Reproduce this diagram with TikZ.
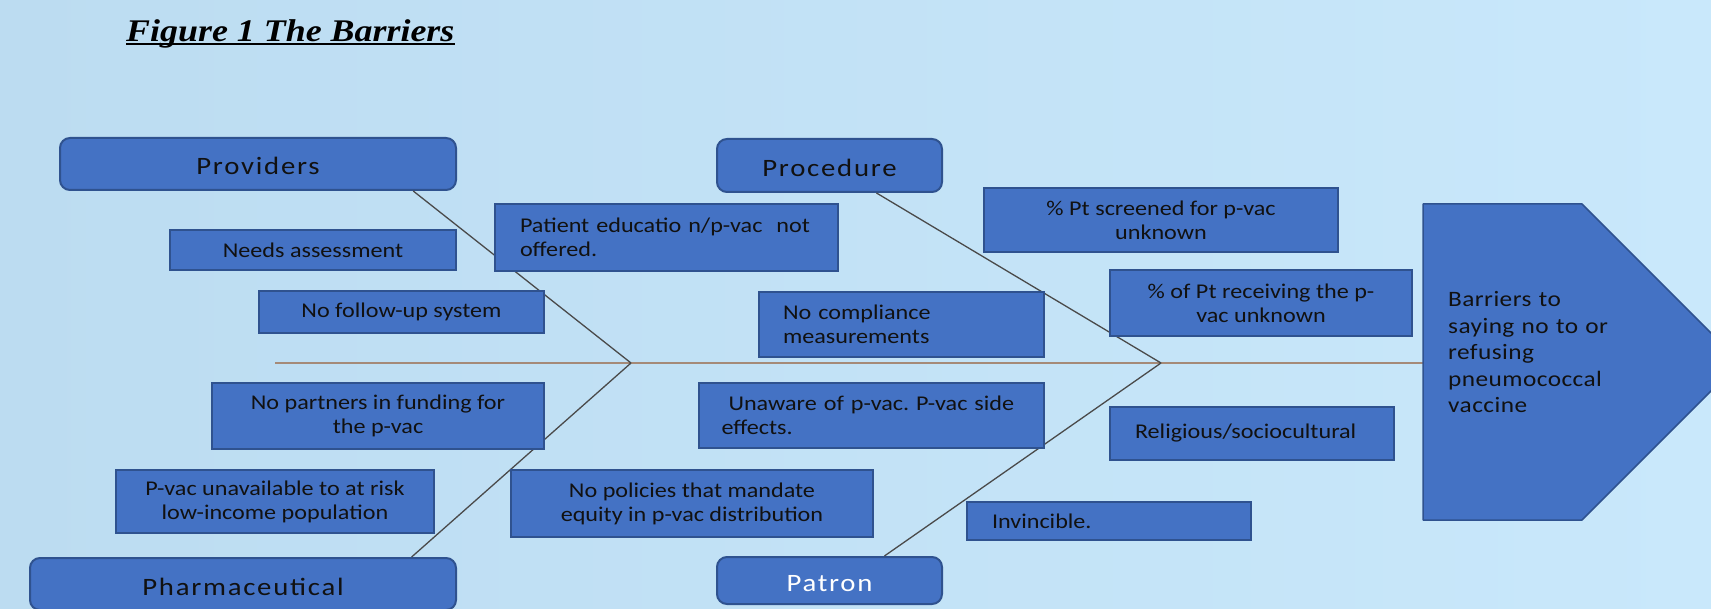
\documentclass[tikz,border=0pt]{standalone}
\usepackage{fontspec}
\setmainfont{Carlito}
\newfontfamily\BoxFont[FakeStretch=1.15]{Carlito}
\newfontfamily\HeadFont[FakeStretch=1.15,LetterSpace=7]{Carlito}
\newfontfamily\GoalFont[FakeStretch=1.15,LetterSpace=2]{Carlito}
\newfontfamily\TitleFont[FakeStretch=1.14]{Liberation Serif}
\usetikzlibrary{calc}
\frenchspacing

\definecolor{BgLeft}{HTML}{BCDCF1}
\definecolor{BgRight}{HTML}{C9E8FB}
\definecolor{BoxBlue}{HTML}{4472C4}
\definecolor{BoxLine}{HTML}{2F528F}
\definecolor{SpineTan}{HTML}{A58A78}
\definecolor{BoneGray}{HTML}{4A4A4A}
\definecolor{TextDark}{HTML}{111111}

\begin{document}
\begin{tikzpicture}[
        % Environment Config (one unit = one pixel, y going down)
        x=1pt, y=-1pt,
        Head/.style={% Style for the category boxes
          draw=BoxLine,
          fill=BoxBlue,
          line width=2pt,
          rounded corners=10pt,
          inner sep=0pt,
          text height=22pt,
          text depth=0pt,
          text=TextDark,
          font=\HeadFont\fontsize{25}{28}\selectfont
        },
        Cause/.style={% Style for the cause boxes
          draw=BoxLine,
          fill=BoxBlue,
          line width=2pt,
          inner sep=0pt,
          align=center,
          text=TextDark,
          font=\BoxFont\fontsize{21}{24}\selectfont
        },
        BoxSize/.style 2 args={% width and height of a box
          minimum width=#1pt,
          minimum height=#2pt
        },
        LeftText/.style={% left aligned text inside a box
          align=left,
          text width=#1pt
        },
        Bone/.style={% Style for the fish bones
          draw=BoneGray,
          line width=1.3pt
        },
        Title/.style={% Style for the heading
          inner sep=0pt,
          text=black,
          font=\TitleFont\bfseries\itshape\fontsize{31.5}{36}\selectfont
        }
      ]

      % Background
      \shade[left color=BgLeft, right color=BgRight] (0,0) rectangle (1711,609);
      \useasboundingbox (0,0) rectangle (1711,609);
      \clip (0,0) rectangle (1711,609);

      %===Title===
      \draw(126,42) node[Title, anchor=base west](Title){Figure 1 The Barriers};
      \draw[line width=2pt] ([yshift=-2pt]Title.base west) -- ([yshift=-2pt]Title.base east);

      %===Categories===
      \draw(258,164) node[Head, BoxSize={396}{52}](Prov){Providers};
      \draw(829.5,165.5) node[Head, BoxSize={225}{53}](Proc){Procedure};
      \draw(243,584) node[Head, BoxSize={426}{52}](Pharm){Pharmaceutical};
      \draw(829.5,580.5) node[Head, BoxSize={225}{47}, text=white](Patron){Patron};

      %===Spine and bones===
      \coordinate (Tail) at (275,363);
      \coordinate (Head) at (1423,363);
      \coordinate (J1) at (631,363);
      \coordinate (J2) at (1161,363);
      \draw[SpineTan, line width=2pt] (Tail) -- (Head);
      \draw[Bone]
      ($(Prov.south west)!0.89!(Prov.south east)$)
          -- (J1)
      ($(Pharm.north west)!0.894!(Pharm.north east)$)
          -- (J1)
      ($(Proc.south west)!0.707!(Proc.south east)$)
          -- (J2)
      ($(Patron.north west)!0.742!(Patron.north east)$)
          -- (J2);

      %===Causes: Providers===
      \draw(313,250) node[Cause, BoxSize={286}{40}](Needs){Needs assessment};
      \draw(401.5,312) node[Cause, BoxSize={285}{42}](Follow){No follow-up system};
      \draw(666.5,237.5) node[Cause, BoxSize={343}{67}, LeftText=293](Educ){Patient educatio n/p-vac~~not\\offered.};

      %===Causes: Procedure===
      \draw(901.5,324.5) node[Cause, BoxSize={285}{65}, LeftText=237](Comply){No compliance\\measurements};
      \draw(1161,220) node[Cause, BoxSize={354}{64}](Screen){\% Pt screened for p-vac\\unknown};
      \draw(1261,303) node[Cause, BoxSize={302}{66}](Receive){\% of Pt receiving the p-\\vac unknown};

      %===Causes: Pharmaceutical===
      \draw(378,416) node[Cause, BoxSize={332}{66}](Partner){No partners in funding for\\the p-vac};
      \draw(275,501.5) node[Cause, BoxSize={318}{63}](Unavail){P-vac unavailable to at risk\\low-income population};
      \draw(692,503.5) node[Cause, BoxSize={362}{67}](Policy){No policies that mandate\\equity in p-vac distribution};

      %===Causes: Patron===
      \draw(871.5,415.5) node[Cause, BoxSize={345}{65}, LeftText=300](Unaware){\hspace*{7pt}Unaware of p-vac. P-vac side\\effects.};
      \draw(1252,433.5) node[Cause, BoxSize={284}{53}, LeftText=234](Relig){Religious/sociocultural};
      \draw(1109,521) node[Cause, BoxSize={284}{38}, LeftText=234](Invinc){Invincible.};

      %===Effect===
      \draw[BoxLine, fill=BoxBlue, line width=1.5pt, line join=round]
      (1423,204) -- (1582,204) -- (1740,362) -- (1582,520) -- (1423,520) -- cycle;
      \draw(1448,307) node[
              anchor=base west,
              align=left,
              text width=260pt,
              inner sep=0pt,
              text=TextDark,
              font=\GoalFont\fontsize{22}{26.5}\selectfont
          ](Goal){Barriers to\\saying no to or\\refusing\\pneumococcal\\vaccine};

      \end{tikzpicture}
\end{document}
